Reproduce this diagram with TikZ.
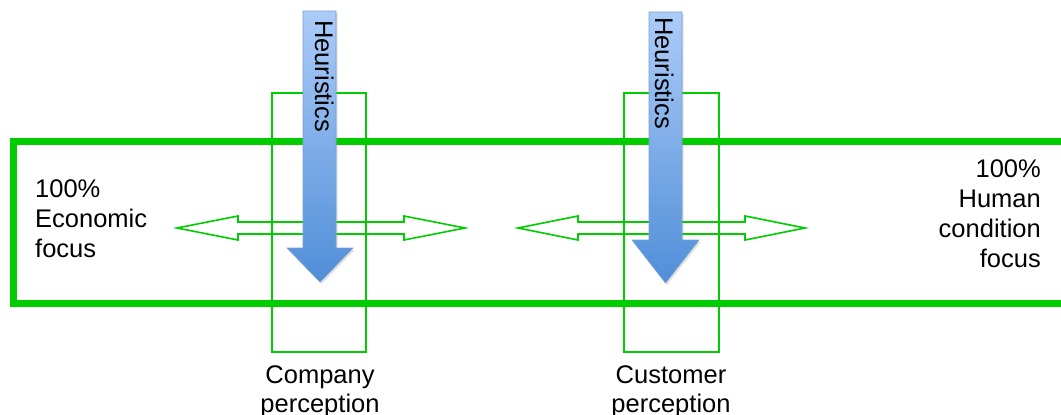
\documentclass[tikz,border=0pt]{standalone}
\usepackage{fontspec}
\setmainfont{Liberation Sans}
\usetikzlibrary{shadows}
\definecolor{gr}{RGB}{0,204,0}
\definecolor{bluetop}{RGB}{172,204,248}
\definecolor{bluebot}{RGB}{80,142,216}
\definecolor{blueedge}{RGB}{120,160,210}
\tikzset{
  thick green/.style={draw=gr,line width=7pt},
  thin green/.style={draw=gr,line width=1.6pt},
  dblarrow/.style={draw=gr,line width=1.6pt,line join=miter},
  bluearrow/.style={top color=bluetop,bottom color=bluebot,draw=blueedge,line width=0.6pt,
     drop shadow={opacity=0.25,shadow xshift=1.5pt,shadow yshift=-2pt}},
  lbl/.style={font=\fontsize{25.5}{30}\selectfont,inner sep=0pt,text=black},
}
\begin{document}
\begin{tikzpicture}[x=1pt,y=-1pt]
\useasboundingbox (0,0) rectangle (1061,415);
\clip (0,0) rectangle (1061,415);
% thick band
\draw[thick green] (13.5,141) rectangle (1085,303.5);
% thin perception boxes
\draw[thin green] (272,93) rectangle (366,352);
\draw[thin green] (624,93) rectangle (719,352);
% double arrows
\draw[dblarrow] (177,228) -- (238,216) -- (238,222) -- (404,222) -- (404,216) -- (465,228)
  -- (404,240) -- (404,234) -- (238,234) -- (238,240) -- cycle;
\draw[dblarrow] (518,228) -- (578,216) -- (578,222) -- (745,222) -- (745,216) -- (805,228)
  -- (745,240) -- (745,234) -- (578,234) -- (578,240) -- cycle;
% blue arrows
\path[bluearrow] (303,11) -- (336,11) -- (336,248) -- (353,248) -- (320,282) -- (287,248) -- (303,248) -- cycle;
\path[bluearrow] (649,12) -- (682,12) -- (682,240) -- (699,240) -- (665.5,283) -- (632,240) -- (649,240) -- cycle;
\node[lbl,rotate=-90,anchor=base west] (heu1) at (315,20) {Heuristics};
\node[lbl,rotate=-90,anchor=base west] (heu2) at (655,17) {Heuristics};
% left text
\node[lbl,anchor=base west] (l1) at (35,197) {100\%};
\node[lbl,anchor=base west] (l2) at (35,227) {Economic};
\node[lbl,anchor=base west] (l3) at (35,257) {focus};
% right text
\node[lbl,anchor=base east] (r1) at (1041,177) {100\%};
\node[lbl,anchor=base east] (r2) at (1041,207) {Human};
\node[lbl,anchor=base east] (r3) at (1041,237) {condition};
\node[lbl,anchor=base east] (r4) at (1041,267) {focus};
% bottom labels
\node[lbl,anchor=base] (c1) at (320,383) {Company};
\node[lbl,anchor=base] (c2) at (320,412) {perception};
\node[lbl,anchor=base] (u1) at (671,383) {Customer};
\node[lbl,anchor=base] (u2) at (671,412) {perception};
\end{tikzpicture}
\end{document}
